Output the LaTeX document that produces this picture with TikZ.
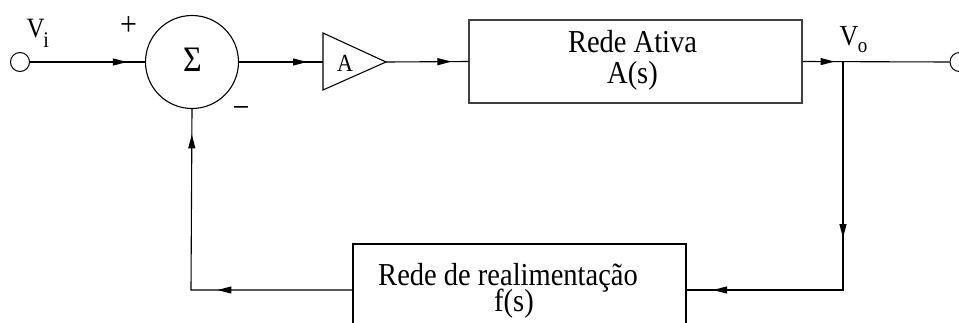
\documentclass[tikz,border=0pt]{standalone}
\usepackage{fontspec}
\usepackage{graphicx}
\setmainfont{Liberation Serif}
\usetikzlibrary{arrows.meta,decorations.markings}

% lettering in this drawing is set slightly taller than wide
\newcommand\tallbox[1]{\scalebox{1}[1.12]{#1}}
% two centred lines at a fixed baseline distance, baseline = first line
\newcommand\twolines[3]{\vtop{\lineskiplimit=-100pt \baselineskip=#1
  \halign{\hfil##\hfil\cr #2\cr #3\cr}}}

\tikzset{
  wire/.style={line width=1.1pt},
  flowtip/.style={postaction={decorate,decoration={markings,
      mark=at position #1 with {\arrow{Triangle[length=14pt,width=7pt]}}}}},
  block/.style={draw, line width=1.1pt, inner sep=0pt},
  port/.style={circle, draw, line width=1pt, minimum size=19pt, inner sep=0pt},
  lbl/.style={inner sep=0pt, font=\fontsize{28.5}{30}\selectfont},
}

\begin{document}
\begin{tikzpicture}[x=1pt,y=-1pt]
  \useasboundingbox (0,0) rectangle (959,322);
  \clip (0,0) rectangle (959,322);

  % terminals
  \node[port] (vin)  at (20,62)    {};
  \node[port] (vout) at (959.5,62) {};
  \node[inner sep=0pt, anchor=base west, font=\fontsize{25}{25}\selectfont] (vilabel) at (26.5,37)
    {\tallbox{V\kern-1.5pt\raisebox{-9.8pt}{\fontsize{20}{20}\selectfont i}}};
  \node[inner sep=0pt, anchor=base west, font=\fontsize{26}{26}\selectfont] (volabel) at (839.5,45)
    {\tallbox{V\kern-0.5pt\raisebox{-6.3pt}{\fontsize{19}{19}\selectfont o}}};

  % summing junction
  \node[circle, draw, line width=1.1pt, minimum size=93pt, inner sep=0pt] (sum) at (192,62) {};
  \node[inner sep=0pt, font=\fontsize{32}{32}\selectfont] (sigma) at (192.5,59.5) {\tallbox{Σ}};
  \node[inner sep=0pt, font=\fontsize{30}{30}\selectfont] (plus)  at (128.5,26)  {\tallbox{+}};
  \node[inner sep=0pt, font=\fontsize{30}{30}\selectfont] (minus) at (241,112) {\tallbox{−}};

  % gain stage
  \coordinate (ampin)  at (323,62);
  \coordinate (ampout) at (386,62);
  \draw[wire] (323,33) -- (ampout) -- (323,90) -- cycle;
  \node[inner sep=0pt, font=\fontsize{22}{22}\selectfont] (gain) at (345,63) {\tallbox{A}};

  % forward network
  \node[block, draw=black!75, minimum width=333pt, minimum height=83pt] (plant) at (635.5,61.5) {};
  \node[lbl, anchor=base] (plantname) at (632.5,52)
    {\tallbox{\twolines{27.7pt}{Rede Ativa}{A(s)}}};

  % feedback network
  \node[block, minimum width=333pt, minimum height=92pt] (fb) at (519.5,290) {};
  \node[lbl, anchor=base] (fbname) at (508,285)
    {\tallbox{\twolines{24pt}{Rede de realimentação}{\kern12pt f(s)}}};

  \coordinate (tap) at (843,62);
  \coordinate (fbright) at (843,290);
  \coordinate (fbleft)  at (191,290);

  % forward path
  \draw[wire, flowtip=-18pt] (vin.east) -- (sum.west);
  \draw[wire, flowtip=-16pt] (sum.east) -- (ampin);
  \draw[wire, flowtip=-17pt] (ampout) -- (plant.west);
  \draw[wire, flowtip=32pt]  (plant.east) -- (vout.west);

  % feedback path
  \draw[wire, flowtip=176pt, flowtip=358pt] (tap) -- (fbright) -- (fb.east);
  \draw[wire, flowtip=135pt, flowtip=317pt] (fb.west) -- (fbleft) -- (sum.south);
\end{tikzpicture}
\end{document}
